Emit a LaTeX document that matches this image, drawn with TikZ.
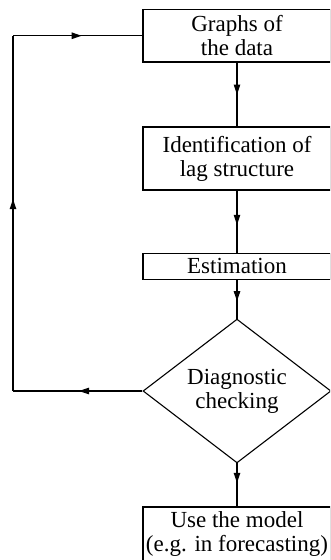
\documentclass[tikz,border=0pt]{standalone}
\usepackage{fontspec}
\setmainfont{Liberation Serif}
\usetikzlibrary{shapes.geometric,arrows.meta,decorations.markings}
\tikzset{
  box/.style={draw, line width=1.1pt, rectangle, inner sep=0pt, minimum width=188pt, align=center,
    font=\fontsize{23}{24}\selectfont},
  dia/.style={draw, line width=1.1pt, diamond, inner sep=0pt, minimum width=188pt, minimum height=108pt,
    align=center, font=\fontsize{23}{24}\selectfont},
  conn/.style={line width=1.1pt},
  arrowat/.style={conn, postaction={decorate}, decoration={markings,
    mark=at position #1 with {\arrow{Triangle[length=10pt,width=6.5pt]}}}},
}
\begin{document}
\begin{tikzpicture}[x=1pt,y=-1pt]
\useasboundingbox (0,0) rectangle (330,560);
\clip (0,0) rectangle (330,560);
\node[box, minimum height=52.5pt] (g) at (237,35.75) {Graphs of\\the data};
\node[box, minimum height=63pt] (id) at (237,158.5) {Identification of\\lag structure};
\node[box, minimum height=26pt] (est) at (237,266.3) {Estimation};
\node[dia] (diag) at (237,391) {Diagnostic\\checking};
\node[box, minimum height=54pt] (use) at (237,534) {Use the model\\(e.g. in forecasting)};
\coordinate (bl) at (13,391);
\coordinate (tl) at (13,35.75);
\draw[arrowat=0.5] (g) -- (id);
\draw[arrowat=0.55] (id) -- (est);
\draw[arrowat=0.55] (est) -- (diag);
\draw[arrowat=0.45] (diag) -- (use);
\draw[arrowat=0.49] (diag.west) -- (bl);
\draw[arrowat=0.54] (bl) -- (tl);
\draw[arrowat=0.53] (tl) -- (g.west);
\end{tikzpicture}
\end{document}
